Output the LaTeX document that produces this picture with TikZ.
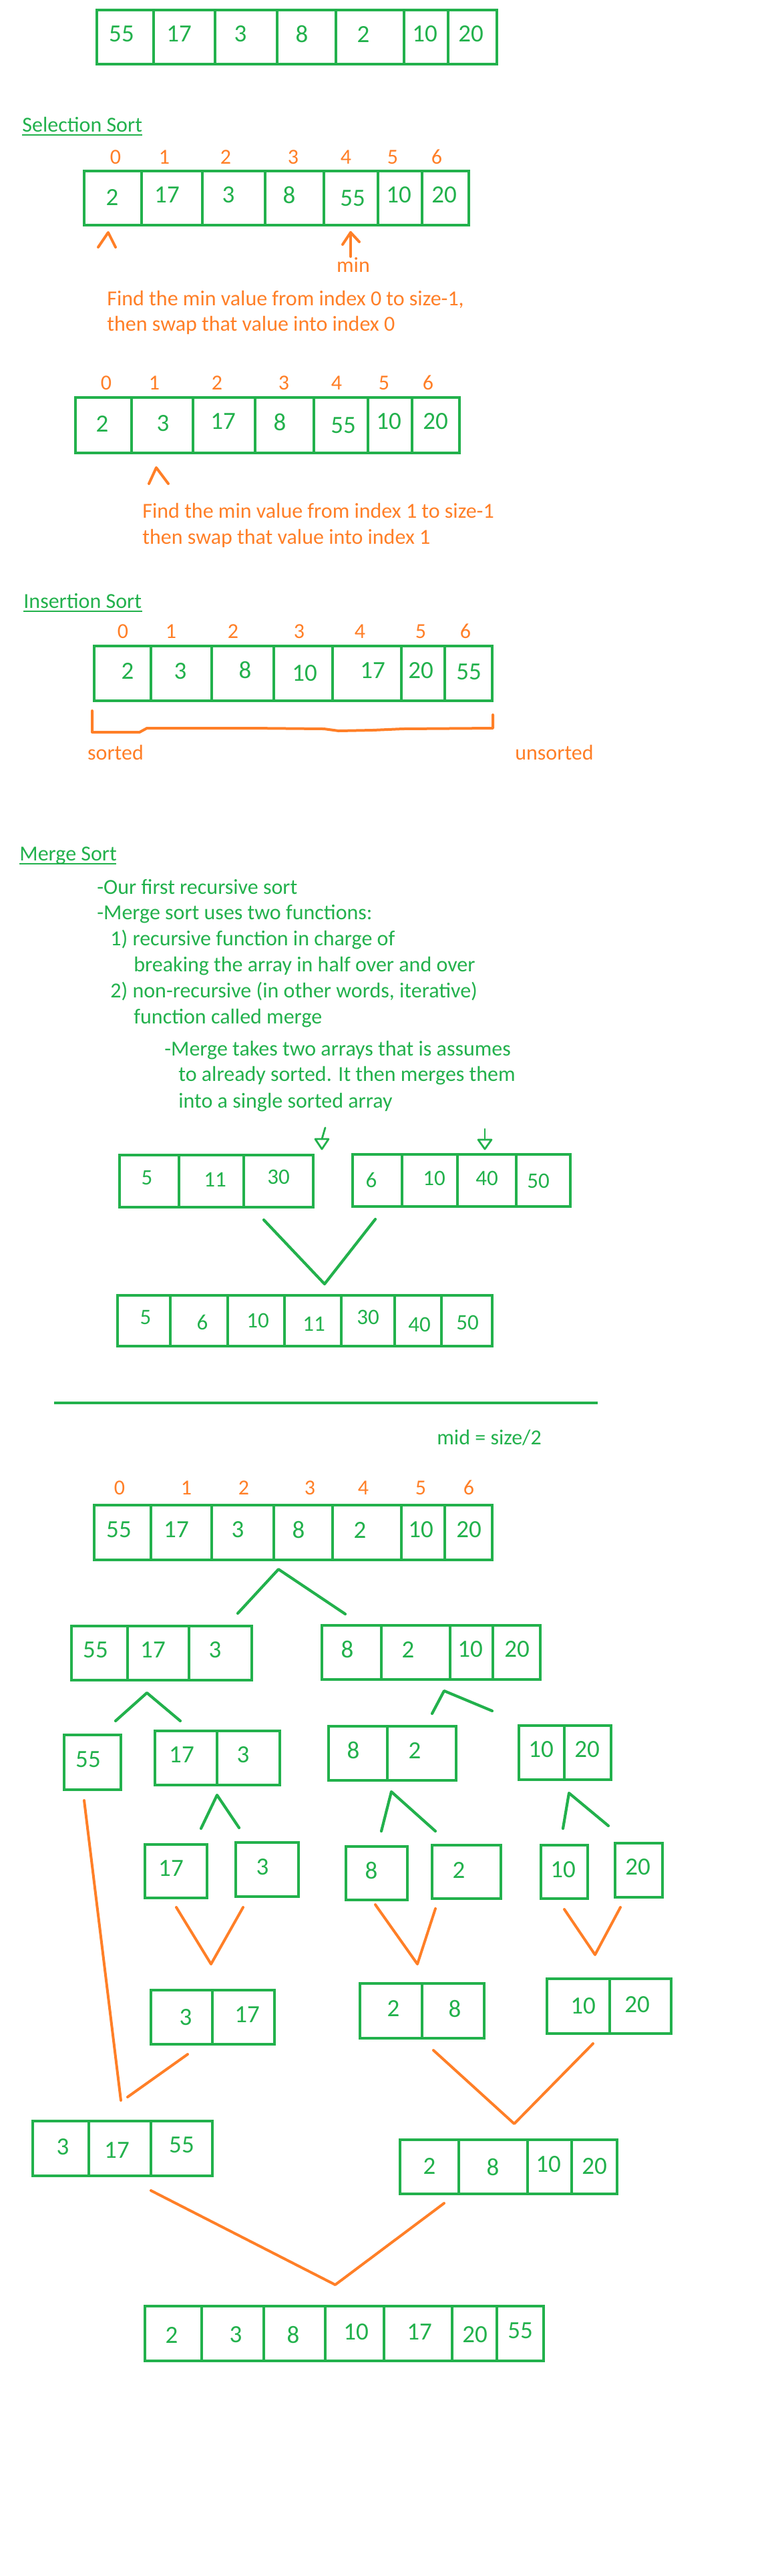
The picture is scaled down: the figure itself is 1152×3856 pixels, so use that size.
\documentclass[tikz,border=0pt]{standalone}
\usepackage{fontspec}
\setmainfont{Carlito}
\usetikzlibrary{fit}
\definecolor{pgreen}{HTML}{22B14C}
\definecolor{porange}{HTML}{FF7F27}
\tikzset{
  arrbox/.style={draw=pgreen, line width=2.2pt, inner sep=0pt},
  celldiv/.style={draw=pgreen, line width=2pt},
  val/.style={text=pgreen, font=\fontsize{18.5}{20}\selectfont, inner sep=0pt},
  sval/.style={text=pgreen, font=\fontsize{16.5}{18}\selectfont, inner sep=0pt},
  idx/.style={text=porange, font=\fontsize{16}{18}\selectfont, inner sep=0pt},
  otxt/.style={text=porange, font=\fontsize{16}{19}\selectfont, inner sep=0pt, anchor=base west},
  gtxt/.style={text=pgreen, font=\fontsize{16}{19}\selectfont, inner sep=0pt, anchor=base west},
  uline/.style={draw=pgreen, line width=1.1pt},
  gline/.style={draw=pgreen, line width=2.1pt, line cap=round, line join=round},
  oline/.style={draw=porange, line width=2pt, line cap=round, line join=round},
  gmark/.style={draw=pgreen, line width=1.4pt, line cap=round, line join=round},
}
% array: name, left, top, right, bottom, dividers
\newcommand\myarr[6]{%
  \node[arrbox, fit={(#2,#3) (#4,#5)}] (#1) {};
  \foreach \d in {#6} \draw[celldiv] (\d,#3) -- (\d,#5);
}
% single cell: name, left, top, right, bottom
\newcommand\mycell[5]{%
  \node[arrbox, fit={(#2,#3) (#4,#5)}] (#1) {};
}
% values: prefix, style, list x/y/v
\newcommand\myvals[3]{%
  \foreach[count=\i] \px/\py/\pv in {#3} \node[#2] (#1-\i) at (\px,\py) {\pv};
}
% indices: prefix, y, list x/v
\newcommand\myidx[3]{%
  \foreach[count=\i] \px/\pv in {#3} \node[idx] (#1-\i) at (\px,#2) {\pv};
}
\begin{document}
\begin{tikzpicture}[x=0.5pt,y=-0.5pt]
\useasboundingbox (0,0) rectangle (1152,3856);
\fill[white] (0,0) rectangle (1152,3856);

% ---------- top array
\myarr{A1}{145}{15}{744}{96}{230,322,415,503,605,671}
\myvals{A1v}{val}{182/51/55,268/51/17,360/51/3,452/51/8,544/51/2,636/51/10,705/51/20}

% ---------- Selection sort
\node[gtxt] (selt) at (33,197) {Selection Sort};
\draw[uline] (33,202) -- (213,202);
\myidx{I1}{235}{173/0,246/1,338/2,439/3,518/4,588/5,654/6}
\myarr{A2}{126}{256}{702}{337}{212,303,397,485,566,632}
\myvals{A2v}{val}{168/295/2,250/292/17,342/292/3,433/292/8,528/297/55,597/292/10,665/292/20}
\draw[oline] (147,370) -- (162,348) -- (173,370);
\draw[oline] (525,384) -- (525,348);
\draw[oline] (513,366) -- (525,348) -- (538,362);
\node[text=porange, font=\fontsize{16}{19}\selectfont, inner sep=0pt, anchor=base] (minl) at (529,407) {min};
\node[otxt] (t1a) at (160,457) {Find the min value from index 0 to size-1,};
\node[otxt] (t1b) at (160,495) {then swap that value into index 0};

\myidx{I2}{573}{159/0,231/1,325/2,425/3,504/4,575/5,641/6}
\myarr{A3}{113}{595}{688}{678}{197,289,382,470,551,617}
\myvals{A3v}{val}{153/634/2,244/634/3,334/631/17,419/632/8,514/637/55,582/631/10,652/631/20}
\draw[oline] (223,724) -- (234,700) -- (252,724);
\node[otxt] (t2a) at (213,775) {Find the min value from index 1 to size-1};
\node[otxt] (t2b) at (213,814) {then swap that value into index 1};

% ---------- Insertion sort
\node[gtxt] (inst) at (35,910) {Insertion Sort};
\draw[uline] (35,915) -- (213,915);
\myidx{I3}{945}{184/0,256/1,349/2,448/3,539/4,630/5,697/6}
\myarr{A4}{141}{967}{737}{1049}{226,317,410,498,601,666}
\myvals{A4v}{val}{191/1004/2,270/1005/3,367/1003/8,456/1008/10,558/1004/17,630/1004/20,702/1006/55}
\draw[oline] (138,1064) -- (138,1096) -- (209,1096) -- (220,1090) -- (375,1090) -- (485,1091) -- (507,1094) -- (558,1093) -- (603,1091) -- (738,1090) -- (738,1070);
\node[text=porange, font=\fontsize{16}{19}\selectfont, inner sep=0pt, anchor=base] (sortl) at (173,1137) {sorted};
\node[text=porange, font=\fontsize{16}{19}\selectfont, inner sep=0pt, anchor=base] (unsortl) at (830,1137) {unsorted};

% ---------- Merge sort
\node[gtxt] (mert) at (29,1288) {Merge Sort};
\draw[uline] (29,1293) -- (174,1293);
\node[gtxt] (m1) at (145,1338) {-Our first recursive sort};
\node[gtxt] (m2) at (145,1376) {-Merge sort uses two functions:};
\node[gtxt] (m3) at (165,1415) {1) recursive function in charge of};
\node[gtxt] (m4) at (200,1454) {breaking the array in half over and over};
\node[gtxt] (m5) at (165,1493) {2) non-recursive (in other words, iterative)};
\node[gtxt] (m6) at (200,1532) {function called merge};
\node[gtxt] (m7) at (246,1580) {-Merge takes two arrays that is assumes};
\node[gtxt] (m8) at (267,1618) {to already sorted. It then merges them};
\node[gtxt] (m9) at (267,1658) {into a single sorted array};

\draw[gmark] (487,1688) -- (482,1705);
\draw[gmark] (472,1705) -- (492,1705) -- (482,1720) -- cycle;
\draw[gmark] (726,1690) -- (726,1706);
\draw[gmark] (716,1706) -- (736,1706) -- (726,1720) -- cycle;

\myarr{B1}{179}{1729}{469}{1807}{268,365}
\myvals{B1v}{sval}{220/1763/5,322/1766/11,417/1762/30}
\myarr{B2}{528}{1728}{854}{1806}{602,685,773}
\myvals{B2v}{sval}{556/1766/6,650/1764/10,729/1764/40,806/1768/50}
\draw[gline] (395,1826) -- (486,1922) -- (562,1825);
\myarr{B3}{176}{1939}{737}{2015}{255,341,426,511,591,661}
\myvals{B3v}{sval}{218/1972/5,303/1979/6,386/1977/10,470/1982/11,551/1972/30,628/1983/40,700/1980/50}

\draw[draw=pgreen, line width=2.4pt] (81,2100) -- (895,2100);
\node[gtxt] (midl) at (654,2162) {mid = size/2};

% ---------- merge sort tree
\myidx{I4}{2227}{179/0,279/1,365/2,464/3,544/4,630/5,702/6}
\myarr{C0}{141}{2253}{737}{2335}{226,317,410,498,601,666}
\myvals{C0v}{val}{178/2290/55,264/2290/17,356/2290/3,447/2290/8,539/2290/2,630/2290/10,702/2290/20}
\draw[gline] (356,2415) -- (417,2349) -- (517,2416);

\myarr{L1}{107}{2434}{377}{2515}{191,283}
\myvals{L1v}{val}{143/2470/55,229/2470/17,322/2470/3}
\myarr{R1}{482}{2433}{809}{2514}{571,674,738}
\myvals{R1v}{val}{520/2469/8,611/2469/2,704/2469/10,774/2469/20}
\draw[gline] (173,2576) -- (220,2534) -- (270,2576);
\draw[gline] (647,2565) -- (665,2531) -- (737,2561);

\mycell{S55}{96}{2597}{181}{2679}
\myvals{S55v}{val}{132/2634/55}
\myarr{S173}{232}{2591}{419}{2672}{325}
\myvals{S173v}{val}{272/2627/17,364/2627/3}
\myarr{S82}{492}{2584}{683}{2665}{580}
\myvals{S82v}{val}{529/2620/8,621/2620/2}
\myarr{S1020}{777}{2583}{915}{2664}{845}
\myvals{S1020v}{val}{810/2619/10,879/2619/20}

\draw[gline] (301,2737) -- (325,2687) -- (358,2736);
\draw[gline] (571,2741) -- (586,2682) -- (652,2741);
\draw[gline] (843,2737) -- (852,2684) -- (911,2733);

\draw[oline] (126,2695) -- (181,3144);

\mycell{T17}{217}{2761}{310}{2841}
\myvals{T17v}{val}{256/2797/17}
\mycell{T3}{353}{2758}{447}{2839}
\myvals{T3v}{val}{393/2795/3}
\mycell{T8}{518}{2764}{610}{2844}
\myvals{T8v}{val}{556/2800/8}
\mycell{T2}{647}{2762}{750}{2842}
\myvals{T2v}{val}{687/2799/2}
\mycell{T10}{810}{2762}{880}{2842}
\myvals{T10v}{val}{843/2799/10}
\mycell{T20}{921}{2759}{992}{2840}
\myvals{T20v}{val}{955/2795/20}

\draw[oline] (264,2855) -- (316,2940) -- (364,2855);
\draw[oline] (562,2851) -- (625,2940) -- (652,2857);
\draw[oline] (845,2858) -- (891,2926) -- (929,2855);

\myarr{D1}{226}{2979}{411}{3060}{318}
\myvals{D1v}{val}{278/3020/3,370/3016/17}
\myarr{D2}{539}{2969}{725}{3051}{632}
\myvals{D2v}{val}{589/3006/2,681/3007/8}
\myarr{D3}{819}{2962}{1005}{3044}{913}
\myvals{D3v}{val}{873/3003/10,954/3001/20}

\draw[oline] (281,3075) -- (191,3139);
\draw[oline] (649,3069) -- (770,3179) -- (888,3059);

\myarr{E1}{49}{3175}{318}{3257}{133,226}
\myvals{E1v}{val}{94/3214/3,175/3219/17,272/3211/55}
\myarr{E2}{599}{3203}{924}{3284}{687,790,856}
\myvals{E2v}{val}{643/3242/2,738/3244/8,821/3240/10,890/3243/20}

\draw[oline] (226,3279) -- (502,3420) -- (665,3298);

\myarr{F}{217}{3452}{814}{3534}{302,395,487,575,677,744}
\myvals{Fv}{val}{257/3495/2,353/3495/3,439/3495/8,533/3491/10,628/3491/17,711/3495/20,779/3489/55}
\end{tikzpicture}
\end{document}
